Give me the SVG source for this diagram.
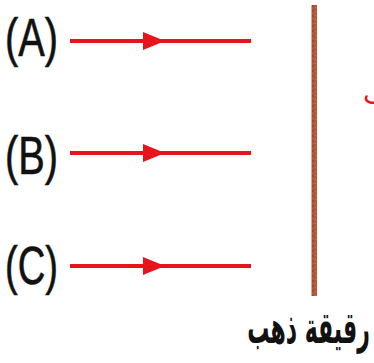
<svg xmlns="http://www.w3.org/2000/svg" width="374" height="363" viewBox="0 0 374 363">
<defs>
<marker id="mid" markerWidth="22" markerHeight="18" refX="11" refY="9" orient="auto" markerUnits="userSpaceOnUse">
<path d="M0,0 L22,9 L0,18 Z" fill="#e8141c"/>
</marker>
</defs>
<style>
.lbl{font-family:"Liberation Sans",Arial,sans-serif;font-size:54px;fill:#111;stroke:#111;stroke-width:0.6;}
.ray{stroke:#e8141c;stroke-width:4;fill:none;}
.ar{font-family:"DejaVu Sans",sans-serif;font-weight:bold;font-size:44px;fill:#111;}
</style>
<rect width="374" height="363" fill="#ffffff"/>
<g id="foil">
<rect x="311.5" y="5" width="5.5" height="291" fill="#b5553a"/>
<line x1="313" y1="5" x2="313" y2="296" stroke="#8f3a24" stroke-width="1" stroke-dasharray="2 3"/>
<line x1="315.5" y1="7" x2="315.5" y2="296" stroke="#d2785a" stroke-width="1" stroke-dasharray="1 3"/>
</g>
<g id="labelA"><text class="lbl" x="5" y="56" textLength="53" lengthAdjust="spacingAndGlyphs">(A)</text></g>
<g id="labelB"><text class="lbl" x="5" y="174" textLength="53" lengthAdjust="spacingAndGlyphs">(B)</text></g>
<g id="labelC"><text class="lbl" x="5" y="284" textLength="53" lengthAdjust="spacingAndGlyphs">(C)</text></g>
<g id="connectors">
<path class="ray" d="M70,41 L154,41 L251,41" marker-mid="url(#mid)"/>
<path class="ray" d="M70,153 L154,153 L251,153" marker-mid="url(#mid)"/>
<path class="ray" d="M70,266 L154,266 L251,266" marker-mid="url(#mid)"/>
</g>
<g id="foilLabel"><text class="ar" transform="translate(308.5,343) scale(0.5,1)" x="0" y="0" text-anchor="middle">رقيقة ذهب</text></g>
<text x="363" y="104" font-family="DejaVu Sans,sans-serif" font-size="28" fill="#e8141c">ب</text>
</svg>
